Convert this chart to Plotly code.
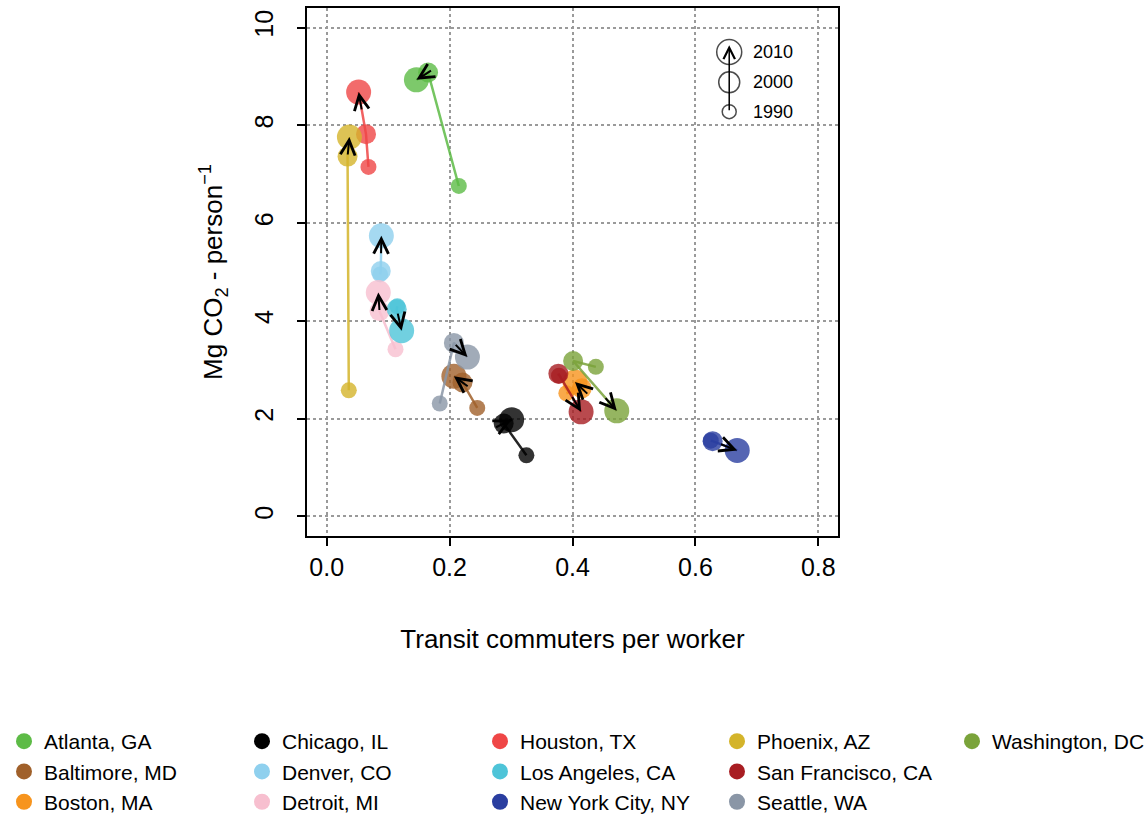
import math
import plotly.graph_objects as go

CITIES = ["Atlanta, GA", "Baltimore, MD", "Boston, MA", "Chicago, IL", "Denver, CO",
          "Detroit, MI", "Houston, TX", "Los Angeles, CA", "New York City, NY",
          "Phoenix, AZ", "San Francisco, CA", "Seattle, WA", "Washington, DC"]
COLORS = ["#5dbb46", "#a0602a", "#f7941d", "#000000", "#8fd0ee", "#f7bfcf", "#ef4646",
          "#4ec4d8", "#2a3ea0", "#d4b42a", "#a81d22", "#8a96a6", "#7aa33a"]

YEARS = ["1990", "2000", "2010"]
TRANSIT_1990 = [0.215, 0.245, 0.390, 0.325, 0.087, 0.112, 0.068, 0.115, 0.625, 0.036, 0.378, 0.184, 0.438]
TRANSIT_2000 = [0.165, 0.221, 0.415, 0.288, 0.088, 0.086, 0.064, 0.114, 0.628, 0.034, 0.377, 0.207, 0.401]
TRANSIT_2010 = [0.146, 0.207, 0.404, 0.301, 0.089, 0.084, 0.052, 0.122, 0.668, 0.037, 0.414, 0.229, 0.472]
CO2_1990 = [6.76, 2.22, 2.52, 1.25, 4.95, 3.42, 7.15, 4.30, 1.55, 2.58, 2.88, 2.31, 3.06]
CO2_2000 = [9.08, 2.74, 2.62, 1.90, 5.02, 4.20, 7.82, 4.24, 1.54, 7.36, 2.92, 3.55, 3.18]
CO2_2010 = [8.93, 2.87, 2.75, 1.98, 5.74, 4.58, 8.68, 3.80, 1.35, 7.76, 2.14, 3.26, 2.16]

X_TICKS = [0.0, 0.2, 0.4, 0.6, 0.8]
X_TICK_LABELS = ["0.0", "0.2", "0.4", "0.6", "0.8"]
Y_TICKS = [0, 2, 4, 6, 8, 10]
Y_TICK_LABELS = ["0", "2", "4", "6", "8", "10"]

# legend columns (column-major as in reference)
LEGEND_COLUMNS = [[0, 1, 2], [3, 4, 5], [6, 7, 8], [9, 10, 11], [12]]

MARKER_SIZES = [16, 20, 25]
FONT = "Liberation Sans, Arial, Helvetica, sans-serif"

X_RANGE = [-0.032, 0.832]
Y_RANGE = [-0.4, 10.4]
M_L, M_R, M_T, M_B = 307, 307, 8, 284
W, H = 1145, 820
plot_w = W - M_L - M_R
plot_h = H - M_T - M_B
sx = plot_w / (X_RANGE[1] - X_RANGE[0])
sy = plot_h / (Y_RANGE[1] - Y_RANGE[0])

fig = go.Figure()
annotations = []

for i, city in enumerate(CITIES):
    xs = [TRANSIT_1990[i], TRANSIT_2000[i], TRANSIT_2010[i]]
    ys = [CO2_1990[i], CO2_2000[i], CO2_2010[i]]
    col = COLORS[i]
    fig.add_trace(go.Scatter(x=xs, y=ys, mode="lines",
                             line=dict(color=col, width=2.5),
                             opacity=0.85, showlegend=False, hoverinfo="skip"))
    fig.add_trace(go.Scatter(x=xs, y=ys, mode="markers",
                             marker=dict(color=col, size=MARKER_SIZES, opacity=0.8,
                                         line=dict(width=0)),
                             showlegend=False, text=YEARS, name=city))
    # arrow head (black) at 2010 pointing along 2000->2010 direction
    dxp = (xs[2] - xs[1]) * sx
    dyp = -(ys[2] - ys[1]) * sy
    n = math.hypot(dxp, dyp) or 1.0
    L = 19
    annotations.append(dict(x=xs[2], y=ys[2], xref="x", yref="y",
                            ax=-dxp / n * L, ay=-dyp / n * L,
                            axref="pixel", ayref="pixel",
                            showarrow=True, arrowhead=5, arrowsize=1.45,
                            arrowwidth=2, arrowcolor="black", text=""))

# legend entries
for li, colidx in enumerate(LEGEND_COLUMNS):
    lname = "legend" if li == 0 else f"legend{li+1}"
    for i in colidx:
        fig.add_trace(go.Scatter(x=[None], y=[None], mode="markers",
                                 marker=dict(color=COLORS[i], size=18),
                                 name=CITIES[i], legend=lname, showlegend=True))

# key in top-right
KEY_X = 0.655
KEY_Y = [8.28, 8.88, 9.5]
KEY_SIZES = [14, 21, 25]
fig.add_trace(go.Scatter(x=[KEY_X] * 3, y=KEY_Y, mode="markers",
                         marker=dict(symbol="circle-open", size=KEY_SIZES, color="black",
                                     line=dict(width=1.5, color="black")),
                         showlegend=False, hoverinfo="skip"))
annotations.append(dict(x=KEY_X, y=9.64, xref="x", yref="y",
                        ax=KEY_X, ay=KEY_Y[0], axref="x", ayref="y",
                        showarrow=True, arrowhead=5, arrowsize=1.5, arrowwidth=1.5,
                        arrowcolor="black", text=""))
for yv, lab in zip(KEY_Y, YEARS):
    annotations.append(dict(x=0.691, y=yv, xref="x", yref="y", text=lab,
                            showarrow=False, xanchor="left", yanchor="middle",
                            font=dict(size=18, color="black", family=FONT)))

legend_x_px = [4, 242, 480, 717, 952]
legends = {}
for li, px in enumerate(legend_x_px):
    key = "legend" if li == 0 else f"legend{li+1}"
    legends[key] = dict(x=(px - M_L) / plot_w, xanchor="left",
                        y=(H - M_B - 721) / plot_h, yanchor="top",
                        orientation="v", bgcolor="rgba(0,0,0,0)",
                        font=dict(size=21, family=FONT, color="black"),
                        itemclick=False, itemdoubleclick=False)

fig.update_layout(
    width=W, height=H,
    margin=dict(l=M_L, r=M_R, t=M_T, b=M_B, autoexpand=False),
    paper_bgcolor="white", plot_bgcolor="white",
    font=dict(family=FONT, color="black"),
    annotations=annotations,
    **legends,
)

fig.update_xaxes(range=X_RANGE, tickvals=X_TICKS, ticktext=X_TICK_LABELS,
                 showgrid=True, gridcolor="#9a9a9a", griddash="dot", gridwidth=1.5,
                 zeroline=False, showline=True, linecolor="black", linewidth=1.5,
                 mirror=True, ticks="outside", ticklen=8, tickwidth=1.5, tickcolor="black",
                 tickfont=dict(size=25, family=FONT, color="black"),
                 title=dict(text="Transit commuters per worker",
                            font=dict(size=26, family=FONT, color="black"), standoff=50))
fig.update_yaxes(range=Y_RANGE, tickvals=Y_TICKS, ticktext=Y_TICK_LABELS,
                 showgrid=True, gridcolor="#9a9a9a", griddash="dot", gridwidth=1.5,
                 zeroline=False, showline=True, linecolor="black", linewidth=1.5,
                 mirror=True, ticks="outside", ticklen=8, tickwidth=1.5, tickcolor="black",
                 tickangle=-90, ticklabelstandoff=14,
                 tickfont=dict(size=25, family=FONT, color="black"),
                 title=dict(text="Mg CO<sub>2</sub> - person<sup>\u22121</sup>",
                            font=dict(size=26, family=FONT, color="black"), standoff=20))

fig.write_html("out.html")
